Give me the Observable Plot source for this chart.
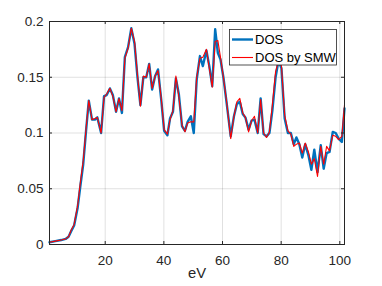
<!DOCTYPE html>
<html>
<head>
<meta charset="utf-8">
<script src="https://cdn.jsdelivr.net/npm/d3@7"></script>
<script src="https://cdn.jsdelivr.net/npm/@observablehq/plot@0.6"></script>
<style>
  html, body { margin: 0; padding: 0; background: #fff; }
  #chart { width: 382px; height: 286px; }
</style>
</head>
<body>
<div id="chart"></div>
<script>
// Energy (eV)
const energy = [1.0, 3.0, 5.0, 6.5, 7.5, 8.4, 9.4, 10.6, 11.5, 12.5, 13.5, 14.4, 15.5, 16.5, 17.3, 18.6, 19.6, 20.5, 21.6, 22.6,
  23.7, 24.7, 25.7, 26.7, 27.8, 28.9, 30.0, 31.0, 32.0, 33.0, 34.0, 35.0, 36.0, 37.0, 38.0, 39.1, 40.1, 41.2, 42.1, 43.1,
  44.1, 45.1, 46.2, 47.2, 48.1, 49.2, 50.2, 51.2, 52.3, 53.3, 54.5, 55.5, 56.5, 57.5, 58.4, 59.3, 60.3, 61.4, 62.8, 63.9,
  64.9, 65.9, 66.9, 67.8, 68.9, 69.9, 70.9, 72.0, 73.0, 74.0, 75.0, 76.0, 77.0, 78.1, 79.1, 80.1, 81.2, 82.3, 83.3, 84.3,
  85.2, 86.2, 87.2, 88.2, 89.3, 90.3, 91.3, 92.4, 93.5, 94.5, 95.5, 96.5, 97.6, 98.6, 99.6, 100.7, 101.6];
// DOS
const dos = [0.002, 0.003, 0.004, 0.005, 0.007, 0.012, 0.017, 0.033, 0.052, 0.072, 0.103, 0.129, 0.112, 0.112, 0.114, 0.100, 0.133, 0.134, 0.140, 0.134,
  0.119, 0.131, 0.118, 0.168, 0.177, 0.194, 0.180, 0.150, 0.125, 0.150, 0.150, 0.162, 0.139, 0.151, 0.157, 0.130, 0.102, 0.098, 0.113, 0.119,
  0.149, 0.135, 0.106, 0.102, 0.110, 0.115, 0.100, 0.148, 0.169, 0.160, 0.174, 0.160, 0.142, 0.193, 0.172, 0.166, 0.150, 0.127, 0.097, 0.115,
  0.126, 0.128, 0.117, 0.114, 0.103, 0.111, 0.112, 0.100, 0.131, 0.099, 0.097, 0.100, 0.120, 0.150, 0.165, 0.158, 0.113, 0.100, 0.100, 0.090,
  0.096, 0.090, 0.078, 0.090, 0.080, 0.067, 0.085, 0.065, 0.089, 0.068, 0.082, 0.083, 0.101, 0.100, 0.095, 0.092, 0.122];
// DOS by SMW
const dosSMW = [0.002, 0.003, 0.004, 0.005, 0.007, 0.013, 0.018, 0.035, 0.055, 0.075, 0.105, 0.129, 0.112, 0.113, 0.114, 0.100, 0.132, 0.135, 0.140, 0.133,
  0.119, 0.131, 0.120, 0.167, 0.176, 0.194, 0.182, 0.152, 0.124, 0.151, 0.150, 0.162, 0.140, 0.151, 0.156, 0.131, 0.103, 0.099, 0.112, 0.120,
  0.151, 0.133, 0.107, 0.101, 0.109, 0.110, 0.110, 0.150, 0.167, 0.168, 0.175, 0.158, 0.141, 0.182, 0.183, 0.168, 0.150, 0.128, 0.095, 0.115,
  0.128, 0.131, 0.118, 0.114, 0.101, 0.111, 0.115, 0.100, 0.130, 0.100, 0.096, 0.101, 0.125, 0.155, 0.165, 0.160, 0.116, 0.102, 0.099, 0.088,
  0.090, 0.091, 0.082, 0.091, 0.083, 0.072, 0.077, 0.061, 0.088, 0.072, 0.088, 0.084, 0.098, 0.097, 0.094, 0.097, 0.125];

const seriesNames = ["DOS", "DOS by SMW"];
const xTicks = [20, 40, 60, 80, 100];
const xTickLabels = ["20", "40", "60", "80", "100"];
const yTicks = [0, 0.05, 0.1, 0.15, 0.2];
const yTickLabels = ["0", "0.05", "0.1", "0.15", "0.2"];
const xLabel = "eV";

const blue = "#0072BD";
const red = "#FF0000";
const axisColor = "#262626";
const font = "'Liberation Sans', Arial, Helvetica, sans-serif";

const W = 382, H = 286, mL = 49, mR = 38, mT = 21, mB = 42;
const pw = W - mL - mR, ph = H - mT - mB;
const tickLen = 3;

const rows1 = energy.map((e, i) => ({x: e, y: dos[i]}));
const rows2 = energy.map((e, i) => ({x: e, y: dosSMW[i]}));

const plot = Plot.plot({
  width: W, height: H,
  marginLeft: mL, marginRight: mR, marginTop: mT, marginBottom: mB,
  style: {fontFamily: font, fontSize: "13.5px", color: axisColor, background: "#fff"},
  x: {domain: [1, 101.6]},
  y: {domain: [0, 0.2]},
  marks: [
    Plot.ruleX(xTicks, {stroke: "#000", strokeOpacity: 0.12}),
    Plot.ruleY(yTicks.slice(1, -1), {stroke: "#000", strokeOpacity: 0.12}),
    Plot.lineY(rows1, {x: "x", y: "y", stroke: blue, strokeWidth: 2.4}),
    Plot.lineY(rows2, {x: "x", y: "y", stroke: red, strokeWidth: 1.1}),
    // inward ticks
    Plot.ruleX(xTicks, {stroke: axisColor, insetTop: ph - tickLen}),
    Plot.ruleX(xTicks, {stroke: axisColor, insetBottom: ph - tickLen}),
    Plot.ruleY(yTicks, {stroke: axisColor, insetRight: pw - tickLen}),
    Plot.ruleY(yTicks, {stroke: axisColor, insetLeft: pw - tickLen}),
    Plot.frame({stroke: axisColor, strokeWidth: 1}),
    Plot.axisX(xTicks, {tickSize: 0, tickPadding: 11, tickFormat: (d, i) => xTickLabels[i], label: null, fill: axisColor}),
    Plot.axisY(yTicks, {tickSize: 0, tickPadding: 6, tickFormat: (d, i) => yTickLabels[i], label: null, fill: axisColor}),
    Plot.text([xLabel], {frameAnchor: "bottom", dy: 33, fontSize: 14.8, fill: axisColor, text: d => d})
  ]
});

// legend inside the axes (top right)
const svg = d3.select(plot);
const lg = svg.append("g").attr("transform", "translate(229.5,29.5)")
  .attr("text-anchor", "start");
lg.append("rect").attr("width", 107).attr("height", 35.5)
  .attr("fill", "#fff").attr("stroke", axisColor).attr("stroke-width", 0.8);
const legendColors = [blue, red];
const legendWidths = [2.4, 1.1];
seriesNames.forEach((name, i) => {
  const cy = 10 + i * 18;
  lg.append("line").attr("x1", 2.5).attr("x2", 23.5).attr("y1", cy).attr("y2", cy)
    .attr("stroke", legendColors[i]).attr("stroke-width", legendWidths[i]);
  lg.append("text").attr("x", 25.5).attr("y", cy).attr("dy", "0.35em")
    .attr("text-anchor", "start")
    .attr("font-family", font).attr("font-size", 13).attr("fill", "#000").text(name);
});

document.getElementById("chart").appendChild(plot);
</script>
</body>
</html>
